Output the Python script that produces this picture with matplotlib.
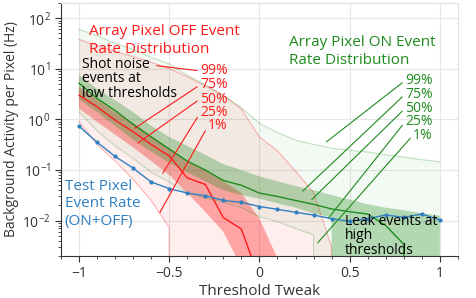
import numpy as np
import matplotlib.pyplot as plt

plt.rcParams['font.family'] = ['Open Sans', 'DejaVu Sans']

# threshold tweak values
tweak = [-1.0, -0.9, -0.8, -0.7, -0.6, -0.5, -0.4, -0.3, -0.2, -0.1, 0.0,
         0.1, 0.2, 0.3, 0.4, 0.5, 0.6, 0.7, 0.8, 0.9, 1.0]

# test pixel event rate (ON+OFF), Hz
test_pixel = [0.736, 0.354, 0.186, 0.109, 0.058, 0.043, 0.035, 0.031, 0.025, 0.023, 0.019,
              0.0167, 0.0146, 0.0129, 0.0109, 0.0097, 0.0109, 0.0129, 0.0116, 0.0135, 0.0103]

# array pixel OFF event rate percentiles
off_p1 = [0.9, 0.32, 0.15, 0.065, 0.025, 0.0073, 0, 0, 0, 0, 0,
          0, 0, 0, 0, 0, 0, 0, 0, 0, 0]
off_p25 = [1.65, 0.9, 0.5, 0.28, 0.15, 0.08, 0.035, 0.015, 0.006, 0.0012, 0,
           0, 0, 0, 0, 0, 0, 0, 0, 0, 0]
off_p50 = [3.0, 1.78, 0.97, 0.57, 0.32, 0.19, 0.07, 0.052, 0.0115, 0.0068, 0.0007,
           0, 0, 0, 0, 0, 0, 0, 0, 0, 0]
off_p75 = [4.4, 2.5, 1.4, 0.85, 0.48, 0.27, 0.15, 0.1, 0.06, 0.035, 0.011,
           0.0018, 0, 0, 0, 0, 0, 0, 0, 0, 0]
off_p99 = [38, 29, 22, 17.5, 13.5, 10, 7, 4.6, 3.0, 1.6, 0.45,
           0.24, 0.095, 0.036, 0.003, 0, 0, 0, 0, 0, 0]

# array pixel ON event rate percentiles
on_p1 = [1.4, 0.6, 0.3, 0.17, 0.09, 0.058, 0.035, 0.028, 0.023, 0.018, 0.012,
         0.0095, 0.007, 0.0052, 0, 0, 0, 0, 0, 0, 0]
on_p25 = [2.5, 1.4, 0.75, 0.4, 0.23, 0.14, 0.09, 0.06, 0.04, 0.032, 0.027,
          0.022, 0.018, 0.014, 0.0115, 0, 0, 0, 0, 0, 0]
on_p50 = [5.2, 2.6, 1.5, 0.8, 0.45, 0.26, 0.15, 0.1, 0.062, 0.05, 0.035,
          0.03, 0.025, 0.021, 0.017, 0.015, 0.0135, 0.008, 0.0034, 0, 0]
on_p75 = [7.6, 4.0, 2.4, 1.4, 0.75, 0.45, 0.3, 0.2, 0.13, 0.1, 0.075,
          0.06, 0.048, 0.04, 0.032, 0.026, 0.021, 0.018, 0.016, 0.014, 0.0125]
on_p99 = [60, 45, 32, 24, 17, 12.5, 7.5, 4.8, 3.0, 1.7, 0.84,
          0.55, 0.39, 0.32, 0.27, 0.245, 0.227, 0.2, 0.18, 0.16, 0.145]

red = '#ff1a1a'
green = '#1e8c1e'
blue = '#2f7fc1'

fig = plt.figure(figsize=(4.76, 2.98), dpi=100)
ax = fig.add_axes([0.128, 0.141, 0.834, 0.849])
ax.set_yscale('log')

with np.errstate(divide='ignore'):
    # OFF distribution
    ax.fill_between(tweak, off_p1, off_p99, color=red, alpha=0.07, lw=0)
    ax.plot(tweak, off_p1, color=red, alpha=0.3, lw=0.8)
    ax.plot(tweak, off_p99, color=red, alpha=0.3, lw=0.8)
    ax.fill_between(tweak, off_p25, off_p75, color=red, alpha=0.35, lw=0)
    # ON distribution
    ax.fill_between(tweak, on_p1, on_p99, color=green, alpha=0.05, lw=0)
    ax.plot(tweak, on_p1, color=green, alpha=0.25, lw=0.8)
    ax.plot(tweak, on_p99, color=green, alpha=0.25, lw=0.8)
    ax.fill_between(tweak, on_p25, on_p75, color=green, alpha=0.3, lw=0)
    ax.plot(tweak, off_p50, color=red, lw=1.0)
    ax.plot(tweak, on_p50, color=green, lw=1.0)
    ax.plot(tweak, test_pixel, color=blue, lw=1.0, marker='o', ms=2)

ax.set_xlim(-1.1, 1.1)
ax.set_ylim(0.002, 200)
ax.set_xticks([-1, -0.5, 0, 0.5, 1])
ax.set_xticklabels(['\u22121', '\u22120.5', '0', '0.5', '1'])
ax.set_xticks(np.arange(-1.1, 1.11, 0.1), minor=True)
ax.grid(True, which='major', color='#e6e6e6', lw=0.8)
ax.set_axisbelow(True)
for s in ['top', 'right']:
    ax.spines[s].set_color('#e0e0e0')
for s in ['left', 'bottom']:
    ax.spines[s].set_color('#333333')
ax.tick_params(which='major', length=4, color='#333333', labelsize=10, labelcolor='#333333')
ax.tick_params(which='minor', length=2, color='#333333')
ax.set_xlabel('Threshold Tweak', fontsize=11, color='#333333', labelpad=2)
ax.set_ylabel('Background Activity per Pixel (Hz)', fontsize=10, color='#333333', labelpad=2)

ax.text(-0.944, 36, 'Array Pixel OFF Event\nRate Distribution', color=red,
        fontsize=11, ha='left', va='center', linespacing=1.25)
ax.text(0.164, 22, 'Array Pixel ON Event\nRate Distribution', color=green,
        fontsize=11, ha='left', va='center', linespacing=1.25)
ax.text(-0.984, 6.3, 'Shot noise\nevents at\nlow thresholds', color='black',
        fontsize=10, ha='left', va='center', linespacing=0.95)
ax.text(0.473, 0.005, 'Leak events at\nhigh\nthresholds', color='black',
        fontsize=10, ha='left', va='center', linespacing=0.95)
ax.text(-1.079, 0.0214, 'Test Pixel\nEvent Rate\n(ON+OFF)', color=blue,
        fontsize=11, ha='left', va='center', linespacing=1.25)

labels = ['99%', '75%', '50%', '25%', '1%']
off_text_y = [9.1, 4.81, 2.53, 1.35, 0.746]
off_pts = [(-0.569, 11.5), (-0.691, 0.67), (-0.674, 0.34), (-0.536, 0.086), (-0.552, 0.0144)]
on_text_y = [5.85, 3.14, 1.65, 0.896, 0.488]
on_pts = [(0.371, 0.359), (0.24, 0.0383), (0.29, 0.026), (0.384, 0.0114), (0.323, 0.00364)]

for lab, ty, pt in zip(labels, off_text_y, off_pts):
    ax.annotate(lab, xy=pt, xytext=(-0.176, ty), color=red, fontsize=10,
                ha='right', va='center',
                arrowprops=dict(arrowstyle='-', color=red, lw=0.8,
                                shrinkA=0, shrinkB=0, relpos=(0, 0.5)))
for lab, ty, pt in zip(labels, on_text_y, on_pts):
    ax.annotate(lab, xy=pt, xytext=(0.96, ty), color=green, fontsize=10,
                ha='right', va='center',
                arrowprops=dict(arrowstyle='-', color=green, lw=0.8,
                                shrinkA=0, shrinkB=0, relpos=(0, 0.5)))

fig.savefig('out.png', dpi=100)
